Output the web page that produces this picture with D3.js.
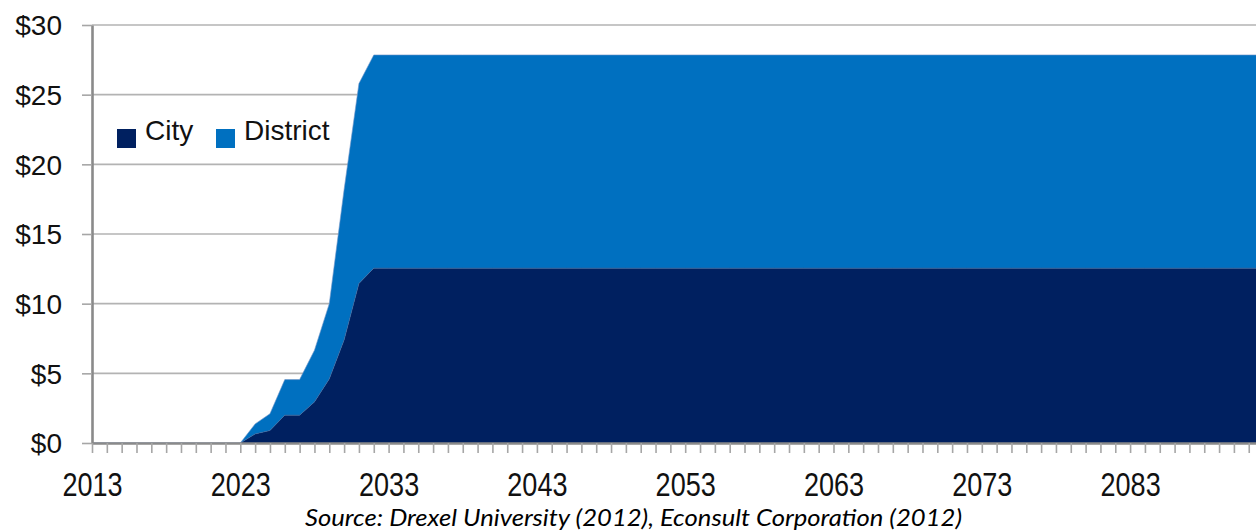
<!DOCTYPE html>
<html>
<head>
<meta charset="utf-8">
<script src="https://cdn.jsdelivr.net/npm/d3@7"></script>
<style>
  html, body { margin: 0; padding: 0; background: #ffffff; }
  svg { display: block; }
</style>
</head>
<body>
<svg id="chart" width="1256" height="531"></svg>
<script>
// Annual revenue ($ millions) by recipient, 2013-2093
const years = [
  2013, 2014, 2015, 2016, 2017, 2018, 2019, 2020, 2021, 2022,
  2023, 2024, 2025, 2026, 2027, 2028, 2029, 2030, 2031, 2032,
  2033, 2034, 2035, 2036, 2037, 2038, 2039, 2040, 2041, 2042,
  2043, 2044, 2045, 2046, 2047, 2048, 2049, 2050, 2051, 2052,
  2053, 2054, 2055, 2056, 2057, 2058, 2059, 2060, 2061, 2062,
  2063, 2064, 2065, 2066, 2067, 2068, 2069, 2070, 2071, 2072,
  2073, 2074, 2075, 2076, 2077, 2078, 2079, 2080, 2081, 2082,
  2083, 2084, 2085, 2086, 2087, 2088, 2089, 2090, 2091, 2092,
  2093
];

const cityValues = [
  0, 0, 0, 0, 0, 0, 0, 0, 0, 0,
  0, 0.65, 0.9, 2.0, 2.0, 2.95, 4.6, 7.4, 11.45, 12.55,
  12.55, 12.55, 12.55, 12.55, 12.55, 12.55, 12.55, 12.55, 12.55, 12.55,
  12.55, 12.55, 12.55, 12.55, 12.55, 12.55, 12.55, 12.55, 12.55, 12.55,
  12.55, 12.55, 12.55, 12.55, 12.55, 12.55, 12.55, 12.55, 12.55, 12.55,
  12.55, 12.55, 12.55, 12.55, 12.55, 12.55, 12.55, 12.55, 12.55, 12.55,
  12.55, 12.55, 12.55, 12.55, 12.55, 12.55, 12.55, 12.55, 12.55, 12.55,
  12.55, 12.55, 12.55, 12.55, 12.55, 12.55, 12.55, 12.55, 12.55, 12.55,
  12.55
];

const districtValues = [
  0, 0, 0, 0, 0, 0, 0, 0, 0, 0,
  0, 0.72, 1.2, 2.55, 2.55, 3.7, 5.4, 10.8, 14.35, 15.3,
  15.3, 15.3, 15.3, 15.3, 15.3, 15.3, 15.3, 15.3, 15.3, 15.3,
  15.3, 15.3, 15.3, 15.3, 15.3, 15.3, 15.3, 15.3, 15.3, 15.3,
  15.3, 15.3, 15.3, 15.3, 15.3, 15.3, 15.3, 15.3, 15.3, 15.3,
  15.3, 15.3, 15.3, 15.3, 15.3, 15.3, 15.3, 15.3, 15.3, 15.3,
  15.3, 15.3, 15.3, 15.3, 15.3, 15.3, 15.3, 15.3, 15.3, 15.3,
  15.3, 15.3, 15.3, 15.3, 15.3, 15.3, 15.3, 15.3, 15.3, 15.3,
  15.3
];

const seriesNames = ["City", "District"];
const seriesColors = ["#002060", "#0070c0"];
const yTicks = [0, 5, 10, 15, 20, 25, 30];
const yearLabels = [2013, 2023, 2033, 2043, 2053, 2063, 2073, 2083];
const sourceNote = "Source: Drexel University (2012), Econsult Corporation (2012)";

const svg = d3.select("#chart");
const W = 1256, H = 531;
const plot = { left: 92, top: 25, bottom: 443 };
const yearStep = 14.83;

const x = d3.scaleLinear()
  .domain([years[0], years[years.length - 1]])
  .range([plot.left, plot.left + (years[years.length - 1] - years[0]) * yearStep]);

const y = d3.scaleLinear().domain([0, 30]).range([plot.bottom, plot.top]);

const rows = years.map((yr, i) => ({ year: yr, City: cityValues[i], District: districtValues[i] }));
const stacked = d3.stack().keys(seriesNames)(rows);

// horizontal gridlines
svg.append("g")
  .selectAll("line")
  .data(yTicks.filter(d => d > 0))
  .join("line")
  .attr("x1", plot.left).attr("x2", W)
  .attr("y1", d => y(d)).attr("y2", d => y(d))
  .attr("stroke", "#b3b3b3")
  .attr("stroke-width", 1.6);

// clip to the plot area
svg.append("clipPath").attr("id", "plotClip")
  .append("rect")
  .attr("x", plot.left).attr("y", plot.top)
  .attr("width", W - plot.left).attr("height", plot.bottom - plot.top);

const area = d3.area()
  .x(d => x(d.data.year))
  .y0(d => y(d[0]))
  .y1(d => y(d[1]));

svg.append("g")
  .attr("clip-path", "url(#plotClip)")
  .selectAll("path")
  .data(stacked)
  .join("path")
  .attr("d", area)
  .attr("fill", (d, i) => seriesColors[i]);

// subtle edge along the top of each band
const edge = d3.line()
  .x(d => x(d.data.year))
  .y(d => y(d[1]));
svg.append("g")
  .attr("clip-path", "url(#plotClip)")
  .selectAll("path")
  .data(stacked)
  .join("path")
  .attr("d", edge)
  .attr("fill", "none")
  .attr("stroke", (d, i) => i === 0 ? "#3f5f95" : "#6f95c8")
  .attr("stroke-width", 1)
  .attr("stroke-opacity", 0.6);

// y axis
const yAxis = svg.append("g")
  .attr("transform", `translate(${plot.left},0)`)
  .call(d3.axisLeft(y).tickValues(yTicks).tickFormat(d => "$" + d).tickSizeInner(10).tickSizeOuter(0).tickPadding(20));
yAxis.select(".domain").attr("stroke", "#8a8a8a").attr("stroke-width", 2.6);
yAxis.selectAll(".tick line").attr("stroke", "#a6a6a6").attr("stroke-width", 1.6);
yAxis.selectAll(".tick text")
  .attr("fill", "#111")
  .attr("font-family", "'Liberation Sans', Arial, sans-serif")
  .attr("font-size", 28)
  .attr("dy", "0.35em");

// x axis
const xAxis = svg.append("g")
  .attr("transform", `translate(0,${plot.bottom})`)
  .call(d3.axisBottom(x).tickValues(years)
    .tickFormat(d => yearLabels.includes(d) ? String(d) : "")
    .tickSizeInner(10).tickSizeOuter(0).tickPadding(0));
xAxis.select(".domain").attr("stroke", "#8a8a8a").attr("stroke-width", 2.6);
xAxis.selectAll(".tick line").attr("stroke", "#a6a6a6").attr("stroke-width", 1.6);
xAxis.selectAll(".tick text")
  .attr("fill", "#111")
  .attr("font-family", "'Liberation Sans', Arial, sans-serif")
  .attr("font-size", 33)
  .attr("y", 53)
  .attr("dy", 0)
  .attr("transform", "scale(0.82,1)");

// legend
const legend = svg.append("g").attr("transform", "translate(117,129)");
const legendItems = legend.selectAll("g")
  .data(seriesNames)
  .join("g")
  .attr("transform", (d, i) => `translate(${i * 99},0)`);
legendItems.append("rect")
  .attr("width", 19).attr("height", 19)
  .attr("fill", (d, i) => seriesColors[i]);
legendItems.append("text")
  .attr("x", 28).attr("y", 11)
  .attr("fill", "#111")
  .attr("font-family", "'Liberation Sans', Arial, sans-serif")
  .attr("font-size", 28)
  .text(d => d);

// source note
svg.append("text")
  .attr("x", 633.5).attr("y", 526)
  .attr("text-anchor", "middle")
  .attr("font-family", "Lato, 'Open Sans', sans-serif")
  .attr("font-style", "italic")
  .attr("font-size", 24)
  .attr("fill", "#000")
  .attr("textLength", 657)
  .attr("lengthAdjust", "spacingAndGlyphs")
  .text(sourceNote);
</script>
</body>
</html>
